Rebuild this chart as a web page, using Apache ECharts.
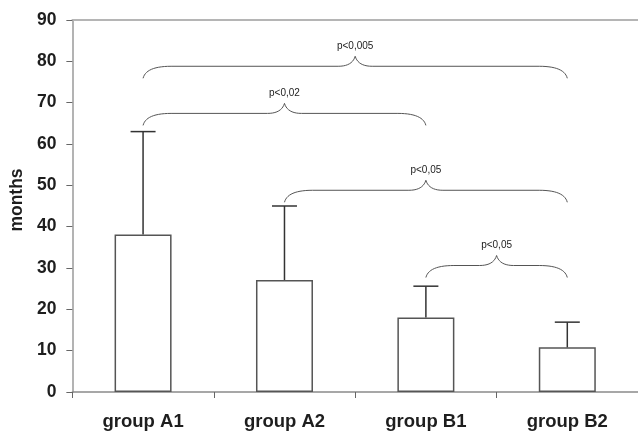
<!DOCTYPE html>
<html>
<head>
<meta charset="utf-8">
<script src="https://cdn.jsdelivr.net/npm/echarts@6/dist/echarts.min.js"></script>
<style>
html,body{margin:0;padding:0;background:#fff;}
#chart{width:638px;height:432px;}
</style>
</head>
<body>
<div id="chart"></div>
<script>
const categories = ['group A1', 'group A2', 'group B1', 'group B2'];
const means = [38.1, 27.1, 18.0, 10.8];
const errorTops = [63, 45, 25.6, 16.9];
const yTicks = [0, 10, 20, 30, 40, 50, 60, 70, 80, 90];

const bracketFrom = [0, 0, 1, 2];
const bracketTo = [3, 2, 3, 3];
const bracketLevel = [75.9, 64.5, 45.9, 27.7];
const bracketLabels = ['p<0,005', 'p<0,02', 'p<0,05', 'p<0,05'];

const chart = echarts.init(document.getElementById('chart'), null, {renderer: 'canvas'});

const errData = categories.map((c, i) => [i, means[i], errorTops[i]]);
const bracketData = bracketLabels.map((l, i) => [bracketFrom[i], bracketTo[i], bracketLevel[i], l]);

function quad(p0, c, p1, n) {
  const pts = [];
  for (let k = 0; k <= n; k++) {
    const t = k / n;
    const a = (1 - t) * (1 - t), b = 2 * (1 - t) * t, d = t * t;
    pts.push([a * p0[0] + b * c[0] + d * p1[0], a * p0[1] + b * c[1] + d * p1[1]]);
  }
  return pts;
}

chart.setOption({
  animation: false,
  backgroundColor: '#fff',
  grid: {left: 72, top: 20, width: 571, height: 372, containLabel: false},
  xAxis: [{
    type: 'category',
    data: categories,
    position: 'bottom',
    axisLine: {show: true, lineStyle: {color: '#8a8a8a', width: 1.5}},
    axisTick: {show: true, length: 6, inside: false, alignWithLabel: false, lineStyle: {color: '#666', width: 1}},
    axisLabel: {margin: 20, color: '#1e1e1e', fontSize: 18.5, fontWeight: 'bold', fontFamily: 'Liberation Sans, Arial, sans-serif'},
    splitLine: {show: false}
  }, {
    type: 'category',
    data: categories,
    position: 'top',
    axisLine: {show: true, lineStyle: {color: '#b5b5b5', width: 2}},
    axisTick: {show: false},
    axisLabel: {show: false}
  }],
  yAxis: {
    type: 'value',
    min: 0, max: 90, interval: 10,
    name: 'months',
    nameLocation: 'middle',
    nameGap: 45,
    nameTextStyle: {color: '#1e1e1e', fontSize: 17.5, fontWeight: 'bold', fontFamily: 'Liberation Sans, Arial, sans-serif',
      padding: [0, 0, 0, 12]},
    axisLine: {show: true, lineStyle: {color: '#9a9a9a', width: 1.5}},
    axisTick: {show: true, length: 6, lineStyle: {color: '#666', width: 1}},
    axisLabel: {margin: 16, color: '#1e1e1e', fontSize: 17.5, fontWeight: 'bold', fontFamily: 'Liberation Sans, Arial, sans-serif',
      formatter: v => yTicks.indexOf(v) >= 0 ? String(v) : ''},
    splitLine: {show: false}
  },
  series: [{
    type: 'bar',
    data: means,
    barWidth: 57,
    itemStyle: {color: '#ffffff', borderColor: '#555', borderWidth: 1.5},
    z: 2
  }, {
    type: 'custom',
    data: errData,
    z: 3,
    renderItem: function (params, api) {
      const i = api.value(0);
      const pBase = api.coord([i, api.value(1)]);
      const pTop = api.coord([i, api.value(2)]);
      const cap = 12.5;
      return {
        type: 'group',
        children: [{
          type: 'line',
          shape: {x1: pBase[0], y1: pBase[1], x2: pTop[0], y2: pTop[1]},
          style: {stroke: '#333', lineWidth: 1.5}
        }, {
          type: 'line',
          shape: {x1: pTop[0] - cap, y1: pTop[1], x2: pTop[0] + cap, y2: pTop[1]},
          style: {stroke: '#333', lineWidth: 1.5}
        }]
      };
    }
  }, {
    type: 'custom',
    data: bracketData,
    z: 4,
    renderItem: function (params, api) {
      const d = bracketData[params.dataIndex];
      const p1 = api.coord([d[0], d[2]]);
      const p2 = api.coord([d[1], d[2]]);
      const x1 = p1[0], x2 = p2[0], yE = p1[1];
      const yF = yE - 12, yP = yE - 22;
      const xc = (x1 + x2) / 2;
      const r = 28, cw = 17;
      let pts = [];
      pts = pts.concat(quad([x1, yE], [x1 + 3, yF], [x1 + r, yF], 14));
      pts = pts.concat(quad([xc - cw, yF], [xc - 3, yF], [xc, yP], 10));
      pts = pts.concat(quad([xc, yP], [xc + 3, yF], [xc + cw, yF], 10));
      pts = pts.concat(quad([x2 - r, yF], [x2 - 3, yF], [x2, yE], 14));
      return {
        type: 'group',
        children: [{
          type: 'polyline',
          shape: {points: pts},
          style: {stroke: '#555', lineWidth: 1, fill: null}
        }, {
          type: 'text',
          style: {text: d[3], x: xc, y: yP - 10, textAlign: 'center', textVerticalAlign: 'middle',
            fill: '#222', fontSize: 10, fontFamily: 'Liberation Sans, Arial, sans-serif'}
        }]
      };
    }
  }]
});
</script>
</body>
</html>
